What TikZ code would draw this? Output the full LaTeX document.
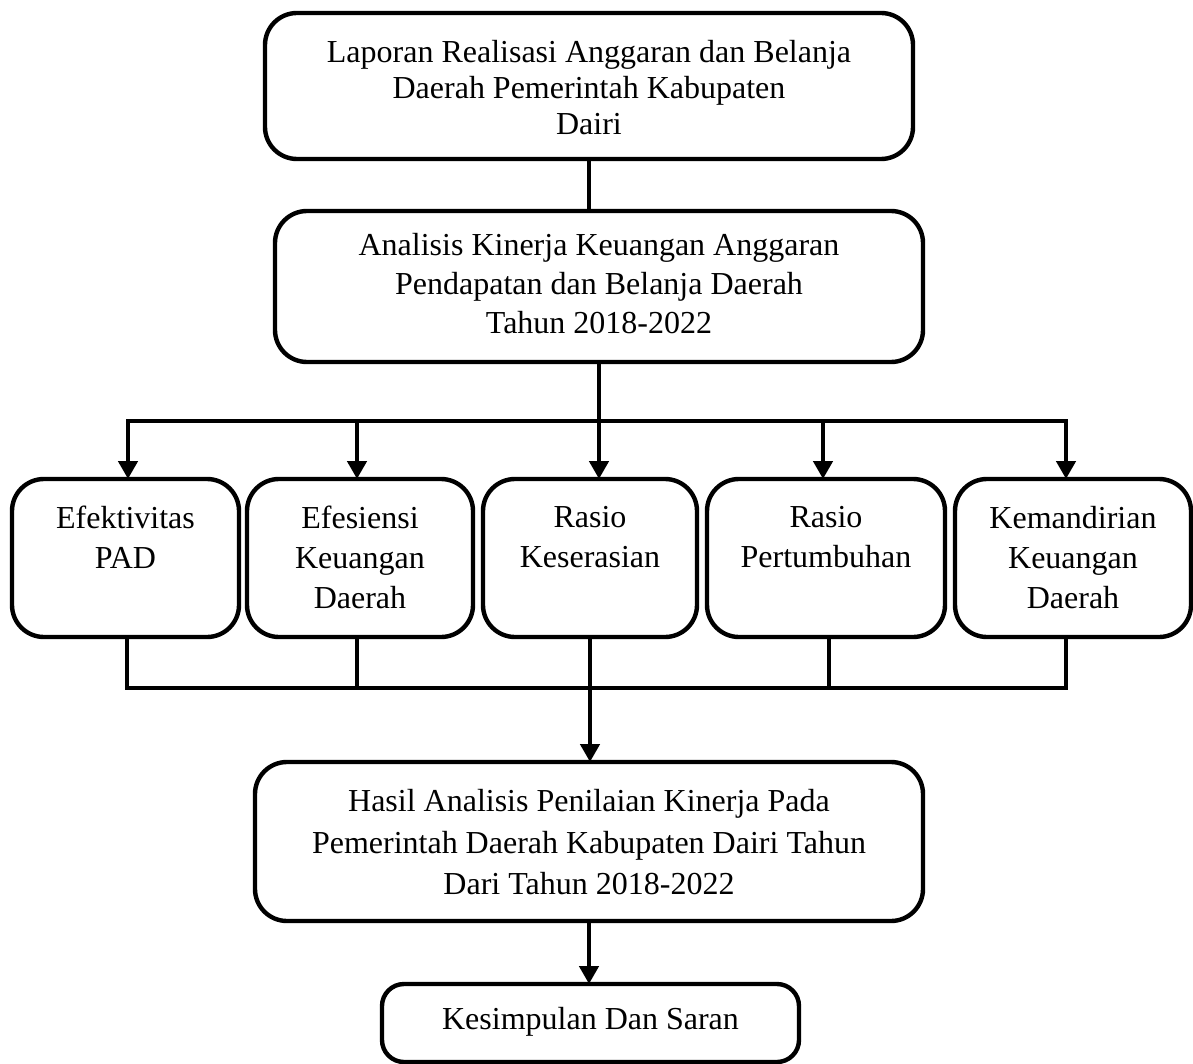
\documentclass[tikz,border=0pt]{standalone}
\usepackage{fontspec}
\setmainfont{Liberation Serif}
\usetikzlibrary{arrows.meta}
\begin{document}
\begin{tikzpicture}[x=0.5pt,y=-0.5pt,
  bx/.style={draw,line width=2.2pt,rounded corners=16pt,inner sep=0pt,outer sep=0pt},
  txt/.style={align=center,inner sep=0pt,anchor=north,font=\fontsize{16pt}{#1}\selectfont},
  ln/.style={line width=2.4pt},
  drop/.style={line width=1.7pt},
  arr/.style={line width=2.4pt,-{Triangle[width=9.5pt,length=9pt]}}]
\useasboundingbox (0,0) rectangle (1193,1064);
% boxes
\node[bx,minimum width=324pt,minimum height=73pt] (L) at (589,86) {};
\node[bx,minimum width=324pt,minimum height=75.5pt] (A) at (599,286.5) {};
\node[bx,minimum width=113.5pt,minimum height=79pt] (b1) at (125.5,558) {};
\node[bx,minimum width=113pt,minimum height=79pt] (b2) at (360,558) {};
\node[bx,minimum width=107pt,minimum height=79pt] (b3) at (590,558) {};
\node[bx,minimum width=119pt,minimum height=79pt] (b4) at (826,558) {};
\node[bx,minimum width=118pt,minimum height=79pt] (b5) at (1073,558) {};
\node[bx,minimum width=334pt,minimum height=79.5pt] (H) at (589,841.5) {};
\node[bx,rounded corners=11pt,minimum width=208.5pt,minimum height=39pt] (K) at (590.5,1023) {};
% texts
\node[txt=18pt] (Lt) at (589,40) {Laporan Realisasi Anggaran dan Belanja\\Daerah Pemerintah Kabupaten\\Dairi};
\node[txt=19.5pt] (At) at (599,233) {Analisis Kinerja Keuangan Anggaran\\Pendapatan dan Belanja Daerah\\Tahun 2018-2022};
\node[txt=20pt] (b1t) at (125.5,506) {Efektivitas\\PAD};
\node[txt=20pt] (b2t) at (360,506) {Efesiensi\\Keuangan\\Daerah};
\node[txt=20pt] (b3t) at (590,506) {Rasio\\Keserasian};
\node[txt=20pt] (b4t) at (826,506) {Rasio\\Pertumbuhan};
\node[txt=20pt] (b5t) at (1073,506) {Kemandirian\\Keuangan\\Daerah};
\node[txt=20.75pt] (Ht) at (589,789) {Hasil Analisis Penilaian Kinerja Pada\\Pemerintah Daerah Kabupaten Dairi Tahun\\Dari Tahun 2018-2022};
\node[txt=18pt] (Kt) at (590.5,1007) {Kesimpulan Dan Saran};
% top connectors
\draw[ln] (L.south) -- (L.south |- A.north);
\coordinate (t1) at (128,421);
\coordinate (t2) at (357,421);
\coordinate (t4) at (823,421);
\coordinate (t5) at (1066,421);
\draw[ln,line cap=rect] (t1) -- (t5);
\draw[arr] (A.south) -- (A.south |- b3.north);
\draw[arr] (t1) -- (t1 |- b1.north);
\draw[arr] (t2) -- (t2 |- b2.north);
\draw[arr] (t4) -- (t4 |- b4.north);
\draw[arr] (t5) -- (t5 |- b5.north);
% bottom connectors
\coordinate (u1) at (127,688);
\coordinate (u2) at (357,688);
\coordinate (u4) at (829,688);
\coordinate (u5) at (1066,688);
\draw[drop] (b1.south -| u1) -- (u1);
\draw[drop] (b2.south -| u2) -- (u2);
\draw[drop] (b4.south -| u4) -- (u4);
\draw[drop] (b5.south -| u5) -- (u5);
\draw[ln,line cap=rect] (u1) -- (u5);
\draw[arr] (b3.south) -- (b3.south |- H.north);
\draw[arr] (H.south) -- (H.south |- K.north);
\end{tikzpicture}
\end{document}
